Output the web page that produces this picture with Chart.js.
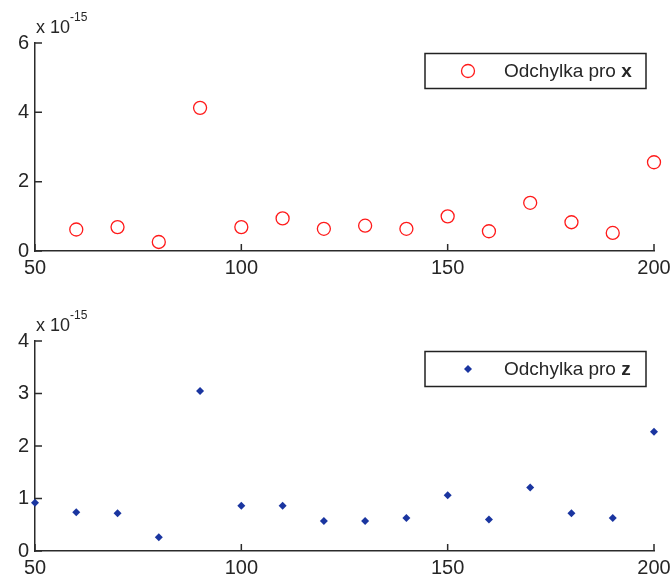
<!DOCTYPE html>
<html>
<head>
<meta charset="utf-8">
<script src="https://cdn.jsdelivr.net/npm/chart.js@4/dist/chart.umd.min.js"></script>
<style>
  html, body { margin: 0; padding: 0; background: #fff; }
  .panel { position: absolute; left: 0; width: 670px; }
  #panelX { top: 0; height: 290px; }
  #panelZ { top: 290px; height: 287px; }
</style>
</head>
<body>
<div class="panel" id="panelX"><canvas id="chartX"></canvas></div>
<div class="panel" id="panelZ"><canvas id="chartZ"></canvas></div>
<script>
// deviations, in units of 1e-15
const nX = [60, 70, 80, 90, 100, 110, 120, 130, 140, 150, 160, 170, 180, 190, 200];
const devX = [0.62, 0.69, 0.26, 4.13, 0.69, 0.94, 0.64, 0.73, 0.64, 1.00, 0.57, 1.39, 0.83, 0.52, 2.56];

const nZ = [50, 60, 70, 80, 90, 100, 110, 120, 130, 140, 150, 160, 170, 180, 190, 200];
const devZ = [0.92, 0.74, 0.72, 0.26, 3.05, 0.86, 0.86, 0.57, 0.57, 0.63, 1.06, 0.60, 1.21, 0.72, 0.63, 2.27];

const xTicks = [50, 100, 150, 200];
const yTicksX = [0, 2, 4, 6];
const yTicksZ = [0, 1, 2, 3, 4];
const exponent = '-15';

const axisColor = '#2b2b2b';
const textColor = '#262626';
const font = 'Liberation Sans, Arial, sans-serif';

// MATLAB style: ticks point into the plot
const inwardTicks = {
  id: 'inwardTicks',
  afterDatasetsDraw(chart) {
    const { ctx, chartArea, scales } = chart;
    ctx.save();
    ctx.strokeStyle = axisColor;
    ctx.lineWidth = 1.5;
    ctx.beginPath();
    scales.x.ticks.forEach(t => {
      const px = scales.x.getPixelForValue(t.value);
      ctx.moveTo(px, chartArea.bottom);
      ctx.lineTo(px, chartArea.bottom - 7);
    });
    scales.y.ticks.forEach(t => {
      const py = scales.y.getPixelForValue(t.value);
      ctx.moveTo(chartArea.left, py);
      ctx.lineTo(chartArea.left + 7, py);
    });
    ctx.stroke();
    ctx.restore();
  }
};

// "x 10^-15" above the y axis
const exponentLabel = {
  id: 'exponentLabel',
  afterDraw(chart) {
    const { ctx, chartArea } = chart;
    ctx.save();
    ctx.fillStyle = textColor;
    ctx.textBaseline = 'alphabetic';
    ctx.textAlign = 'left';
    ctx.font = '18px ' + font;
    const base = 'x 10';
    const bx = chartArea.left + 1, by = chartArea.top - 10;
    ctx.fillText(base, bx, by);
    const w = ctx.measureText(base).width;
    ctx.font = '12px ' + font;
    ctx.fillText(exponent, bx + w, by - 12);
    ctx.restore();
  }
};

// boxed legend in the upper right corner
const boxLegend = {
  id: 'boxLegend',
  afterDraw(chart, args, opts) {
    const { ctx, chartArea } = chart;
    const ds = chart.data.datasets[0];
    const w = 221, h = 35;
    const x0 = chartArea.right - 8 - w;
    const y0 = chartArea.top + 10.5;
    ctx.save();
    ctx.fillStyle = '#fff';
    ctx.fillRect(x0, y0, w, h);
    ctx.strokeStyle = '#222';
    ctx.lineWidth = 1.5;
    ctx.strokeRect(x0, y0, w, h);

    const mx = x0 + 43, my = y0 + h / 2;
    ctx.beginPath();
    if (ds.pointStyle === 'circle') {
      ctx.arc(mx, my, ds.pointRadius, 0, Math.PI * 2);
      ctx.strokeStyle = ds.pointBorderColor;
      ctx.lineWidth = ds.pointBorderWidth;
      ctx.stroke();
    } else {
      const r = ds.pointRadius;
      ctx.moveTo(mx, my - r);
      ctx.lineTo(mx + r, my);
      ctx.lineTo(mx, my + r);
      ctx.lineTo(mx - r, my);
      ctx.closePath();
      ctx.fillStyle = ds.pointBackgroundColor;
      ctx.fill();
    }

    ctx.fillStyle = textColor;
    ctx.textBaseline = 'middle';
    ctx.textAlign = 'left';
    ctx.font = '19px ' + font;
    const tx = x0 + 79;
    ctx.fillText(opts.text, tx, my + 1);
    const tw = ctx.measureText(opts.text + ' ').width;
    ctx.font = 'bold 19px ' + font;
    ctx.fillText(opts.variable, tx + tw, my + 1);
    ctx.restore();
  }
};

function makeChart(id, xs, ys, yTicks, dataset, layout) {
  const points = xs.map((x, i) => ({ x: x, y: ys[i] }));
  return new Chart(document.getElementById(id), {
    type: 'scatter',
    data: { datasets: [Object.assign({ data: points, clip: false }, dataset)] },
    options: {
      responsive: true,
      maintainAspectRatio: false,
      animation: false,
      events: [],
      layout: { padding: { top: layout.top, right: 16, left: 0, bottom: 0 } },
      plugins: {
        legend: { display: false },
        tooltip: { enabled: false },
        boxLegend: { text: 'Odchylka pro', variable: layout.variable }
      },
      scales: {
        x: {
          type: 'linear',
          min: 50,
          max: 200,
          grid: { display: false, drawTicks: false },
          border: { display: true, color: axisColor, width: 1.5 },
          ticks: { color: textColor, font: { family: font, size: 20 }, padding: 5, maxRotation: 0 },
          afterBuildTicks: s => { s.ticks = xTicks.map(v => ({ value: v })); },
          afterFit: s => { s.height = layout.xHeight; s.paddingLeft = 0; s.paddingRight = 0; }
        },
        y: {
          type: 'linear',
          min: yTicks[0],
          max: yTicks[yTicks.length - 1],
          grid: { display: false, drawTicks: false },
          border: { display: true, color: axisColor, width: 1.5 },
          ticks: { color: textColor, font: { family: font, size: 20 }, padding: 6 },
          afterBuildTicks: s => { s.ticks = yTicks.map(v => ({ value: v })); },
          afterFit: s => { s.width = 35; s.paddingTop = 0; s.paddingBottom = 0; }
        }
      }
    },
    plugins: [inwardTicks, exponentLabel, boxLegend]
  });
}

makeChart('chartX', nX, devX, yTicksX, {
  label: 'Odchylka pro x',
  pointStyle: 'circle',
  pointRadius: 6.5,
  pointBorderWidth: 1.3,
  pointBorderColor: '#ff1a1a',
  pointBackgroundColor: 'rgba(0,0,0,0)',
  showLine: false
}, { top: 43, xHeight: 39, variable: 'x' });

makeChart('chartZ', nZ, devZ, yTicksZ, {
  label: 'Odchylka pro z',
  pointStyle: 'rectRot',
  pointRadius: 4,
  pointBorderWidth: 0,
  pointBorderColor: '#1a35a0',
  pointBackgroundColor: '#1a35a0',
  showLine: false
}, { top: 51, xHeight: 26, variable: 'z' });
</script>
</body>
</html>
